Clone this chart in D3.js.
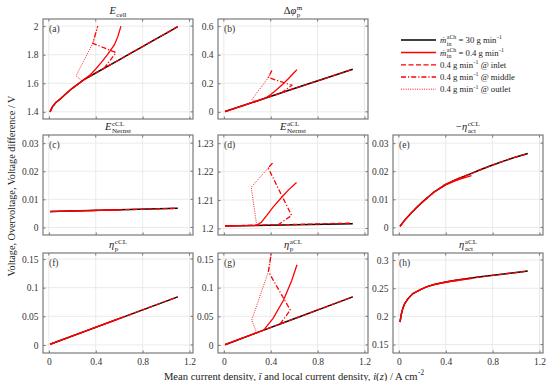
<!DOCTYPE html>
<html>
<head>
<meta charset="utf-8">
<script src="https://cdn.jsdelivr.net/npm/d3@7"></script>
<style>
  body { margin: 0; background: #fff; }
  svg text { font-family: "Liberation Serif", "DejaVu Serif", serif !important; white-space: pre; }
</style>
</head>
<body>
<svg id="chart" width="550" height="381"></svg>
<script>
// ---- data: [current density, value] ----
const xTicks = [0, 0.4, 0.8, 1.2];
const xDomain = [-0.05, 1.23];

// (a) E_cell
const aRef = [[0.01,1.40],[0.03,1.435],[0.06,1.466],[0.1,1.492],[0.15,1.530],[0.2,1.565],[0.3,1.625],[0.4,1.672],[0.5,1.718],[0.6,1.764],[0.7,1.811],[0.8,1.857],[0.9,1.904],[1.0,1.950],[1.1,1.997]];
const aMean = [[0.01,1.40],[0.03,1.435],[0.06,1.466],[0.1,1.492],[0.15,1.530],[0.2,1.565],[0.3,1.627],[0.35,1.657],[0.4,1.70],[0.45,1.748],[0.5,1.80],[0.56,1.87],[0.59,1.93],[0.615,2.0]];
const aInlet = aRef;
const aMiddle = [[0.47,1.704],[0.573,1.815],[0.375,1.88],[0.417,2.0]];
const aOutlet = [[0.283,1.617],[0.232,1.652],[0.375,1.88],[0.417,2.0]];

// (b) membrane proton potential drop
const bRef = [[0.01,0.002],[0.3,0.081],[0.6,0.163],[0.9,0.244],[1.1,0.298]];
const bMean = [[0.01,0.002],[0.3,0.081],[0.35,0.094],[0.4,0.122],[0.45,0.155],[0.5,0.192],[0.55,0.232],[0.6,0.275],[0.624,0.296]];
const bInlet = bRef;
const bMiddle = [[0.49,0.132],[0.58,0.186],[0.38,0.24],[0.41,0.29]];
const bOutlet = [[0.28,0.075],[0.238,0.086],[0.38,0.24],[0.41,0.29]];

// (c) E_Nernst cathode CL
const cRef = [[0.01,0.00565],[0.6,0.00626],[1.1,0.0068]];
const cMean = [[0.01,0.00565],[0.62,0.00628]];
const cInlet = cRef;
const cMiddle = [[0.47,0.00613],[0.573,0.00623],[0.375,0.00603],[0.417,0.00607]];
const cOutlet = [[0.28,0.00593],[0.23,0.00588],[0.375,0.00603],[0.417,0.00607]];

// (d) E_Nernst anode CL
const dRef = [[0.01,1.2009],[0.5,1.2012],[1.1,1.2017]];
const dMean = [[0.01,1.2009],[0.277,1.2011],[0.32,1.2022],[0.363,1.2044],[0.42,1.2075],[0.49,1.2108],[0.55,1.2135],[0.62,1.2162]];
const dInlet = [[0.01,1.2009],[0.3,1.2012],[0.6,1.2014],[0.9,1.2017],[1.1,1.2019]];
const dMiddle = [[0.46,1.2012],[0.578,1.2046],[0.378,1.2213],[0.415,1.223]];
const dOutlet = [[0.28,1.2011],[0.234,1.2145],[0.378,1.2213],[0.415,1.223]];

// (e) -eta_act cathode CL
const eRef = [[0.01,0.0004],[0.05,0.0026],[0.1,0.0049],[0.15,0.0070],[0.2,0.0090],[0.3,0.0126],[0.4,0.0153],[0.5,0.0173],[0.6,0.0189],[0.7,0.0206],[0.8,0.0222],[0.9,0.0237],[1.0,0.0251],[1.1,0.0263]];
const eMean = [[0.01,0.0004],[0.05,0.0026],[0.1,0.0049],[0.15,0.0070],[0.2,0.0090],[0.3,0.0126],[0.4,0.0151],[0.5,0.0169],[0.62,0.0184]];
const eInlet = eRef;
const eMiddle = [[0.46,0.0166],[0.573,0.0181],[0.375,0.0149],[0.417,0.0155]];
const eOutlet = [[0.28,0.0120],[0.23,0.0101],[0.375,0.0149],[0.417,0.0155]];

// (f) eta_p cathode CL
const fRef = [[0.01,0.0012],[0.6,0.0460],[1.1,0.084]];
const fMean = [[0.01,0.0012],[0.62,0.0476]];
const fInlet = fRef;
const fMiddle = [[0.47,0.0362],[0.573,0.044],[0.375,0.029],[0.417,0.032]];
const fOutlet = [[0.28,0.0217],[0.23,0.0179],[0.375,0.029],[0.417,0.032]];

// (g) eta_p anode CL
const gRef = [[0.01,0.0005],[0.3,0.0228],[0.6,0.0457],[0.9,0.0687],[1.1,0.084]];
const gMean = [[0.01,0.0005],[0.3,0.0228],[0.34,0.026],[0.42,0.0465],[0.51,0.0785],[0.58,0.113],[0.624,0.14]];
const gInlet = gRef;
const gMiddle = [[0.48,0.0366],[0.567,0.061],[0.38,0.128],[0.42,0.18]];
const gOutlet = [[0.28,0.0213],[0.238,0.0436],[0.38,0.128],[0.42,0.18]];

// (h) eta_act anode CL
const hRef = [[0.01,0.19],[0.02,0.203],[0.035,0.215],[0.05,0.2227],[0.08,0.232],[0.12,0.2405],[0.18,0.247],[0.235,0.2524],[0.3,0.2565],[0.4,0.2612],[0.5,0.2648],[0.634,0.2684],[0.75,0.2715],[0.863,0.2745],[1.0,0.2778],[1.1,0.2804]];
const hMean = [[0.01,0.19],[0.02,0.203],[0.035,0.215],[0.05,0.2227],[0.08,0.232],[0.12,0.2405],[0.18,0.247],[0.235,0.2524],[0.3,0.2565],[0.4,0.2606],[0.5,0.2638],[0.62,0.2670]];
const hInlet = hRef;
const hMiddle = [[0.46,0.2634],[0.573,0.2660],[0.375,0.2598],[0.417,0.2615]];
const hOutlet = [[0.28,0.2553],[0.23,0.2518],[0.375,0.2598],[0.417,0.2615]];

// ---- layout ----
const colX = [43, 218, 393];
const rowY = [19, 135, 253];
const pw = 150, ph = 100;

const styles = {
  ref:    { color: "#000", width: 1.5, dash: null },
  mean:   { color: "#ff0000", width: 1.3, dash: null },
  inlet:  { color: "#ff0000", width: 1.3, dash: "5,2.5" },
  middle: { color: "#ff0000", width: 1.3, dash: "5,2,1.2,2" },
  outlet: { color: "#ff0000", width: 0.9, dash: "1,1.3" }
};

const panels = [
  { id: "a", col: 0, row: 0, y: [1.35, 2.05], ticks: [1.4, 1.6, 1.8, 2],
    title: [{ t: "E", i: 1, sub: "cell" }],
    data: { ref: aRef, mean: aMean, inlet: aInlet, middle: aMiddle, outlet: aOutlet } },
  { id: "b", col: 1, row: 0, y: [-0.05, 0.65], ticks: [0, 0.2, 0.4, 0.6],
    title: [{ t: "Δ" }, { t: "φ", i: 1, sub: "p", sup: "m" }],
    data: { ref: bRef, mean: bMean, inlet: bInlet, middle: bMiddle, outlet: bOutlet } },
  { id: "c", col: 0, row: 1, y: [-0.0027, 0.0329], ticks: [0, 0.01, 0.02, 0.03],
    title: [{ t: "E", i: 1, sub: "Nernst", sup: "cCL" }],
    data: { ref: cRef, mean: cMean, inlet: cInlet, middle: cMiddle, outlet: cOutlet } },
  { id: "d", col: 1, row: 1, y: [1.1977, 1.2329], ticks: [1.2, 1.21, 1.22, 1.23],
    title: [{ t: "E", i: 1, sub: "Nernst", sup: "aCL" }],
    data: { ref: dRef, mean: dMean, inlet: dInlet, middle: dMiddle, outlet: dOutlet } },
  { id: "e", col: 2, row: 1, y: [-0.0027, 0.0329], ticks: [0, 0.01, 0.02, 0.03],
    title: [{ t: "−" }, { t: "η", i: 1, sub: "act", sup: "cCL" }],
    data: { ref: eRef, mean: eMean, inlet: eInlet, middle: eMiddle, outlet: eOutlet } },
  { id: "f", col: 0, row: 2, y: [-0.014, 0.1605], ticks: [0, 0.05, 0.1, 0.15],
    title: [{ t: "η", i: 1, sub: "p", sup: "cCL" }],
    data: { ref: fRef, mean: fMean, inlet: fInlet, middle: fMiddle, outlet: fOutlet } },
  { id: "g", col: 1, row: 2, y: [-0.014, 0.1605], ticks: [0, 0.05, 0.1, 0.15],
    title: [{ t: "η", i: 1, sub: "p", sup: "aCL" }],
    data: { ref: gRef, mean: gMean, inlet: gInlet, middle: gMiddle, outlet: gOutlet } },
  { id: "h", col: 2, row: 2, y: [0.135, 0.3125], ticks: [0.15, 0.2, 0.25, 0.3],
    title: [{ t: "η", i: 1, sub: "act", sup: "aCL" }],
    data: { ref: hRef, mean: hMean, inlet: hInlet, middle: hMiddle, outlet: hOutlet } }
];

const svg = d3.select("#chart");

// text with italic base letters and stacked sub/superscripts
function richText(parent, x, y, parts, size, anchor) {
  const g = parent.append("g").attr("transform", `translate(${x},${y})`);
  const inner = g.append("g");
  let cx = 0;
  parts.forEach(p => {
    if (p.t) {
      const t = inner.append("text").attr("x", cx).attr("y", 0)
        .attr("font-size", size).attr("fill", "#222")
        .attr("font-style", p.i ? "italic" : "normal").text(p.t);
      cx += t.node().getComputedTextLength();
    }
    let w = 0;
    if (p.sub) {
      const s = inner.append("text").attr("x", cx + 0.5).attr("y", size * 0.3)
        .attr("font-size", size * 0.68).attr("fill", "#222").text(p.sub);
      w = Math.max(w, s.node().getComputedTextLength() + 0.5);
    }
    if (p.sup) {
      const s = inner.append("text").attr("x", cx + 0.5).attr("y", -size * 0.42)
        .attr("font-size", size * 0.68).attr("fill", "#222").text(p.sup);
      w = Math.max(w, s.node().getComputedTextLength() + 0.5);
    }
    cx += w;
  });
  if (anchor === "middle") inner.attr("transform", `translate(${-cx / 2},0)`);
  return g;
}

const line = d3.line();

panels.forEach(p => {
  const left = colX[p.col], top = rowY[p.row];
  const x = d3.scaleLinear().domain(xDomain).range([0, pw]);
  const y = d3.scaleLinear().domain(p.y).range([ph, 0]);
  const g = svg.append("g").attr("transform", `translate(${left},${top})`);

  g.append("clipPath").attr("id", "clip-" + p.id)
    .append("rect").attr("width", pw).attr("height", ph);

  // grid
  g.append("g").selectAll("line").data(xTicks).join("line")
    .attr("x1", d => x(d)).attr("x2", d => x(d)).attr("y1", 0).attr("y2", ph)
    .attr("stroke", "#e4e4e4").attr("stroke-width", 0.8);
  g.append("g").selectAll("line").data(p.ticks).join("line")
    .attr("y1", d => y(d)).attr("y2", d => y(d)).attr("x1", 0).attr("x2", pw)
    .attr("stroke", "#e4e4e4").attr("stroke-width", 0.8);

  // series
  const plot = g.append("g").attr("clip-path", `url(#clip-${p.id})`);
  line.x(d => x(d[0])).y(d => y(d[1]));
  ["ref", "mean", "inlet", "middle", "outlet"].forEach(k => {
    const s = styles[k];
    plot.append("path").datum(p.data[k]).attr("d", line)
      .attr("fill", "none").attr("stroke", s.color)
      .attr("stroke-width", s.width)
      .attr("stroke-dasharray", s.dash);
  });

  // axes (ticks inside, grey box)
  const yAxis = d3.axisLeft(y).tickValues(p.ticks).tickSize(-2.5).tickPadding(4.5).tickFormat(d => String(d));
  const ya = g.append("g").call(yAxis);
  ya.select(".domain").remove();
  ya.selectAll("line").attr("stroke", "#777");
  ya.selectAll("text").attr("font-size", 9.5).attr("fill", "#333");

  const xAxis = d3.axisBottom(x).tickValues(xTicks).tickSize(-2.5).tickPadding(5).tickFormat(d => String(d));
  const xa = g.append("g").attr("transform", `translate(0,${ph})`).call(xAxis);
  xa.select(".domain").remove();
  xa.selectAll("line").attr("stroke", "#777");
  xa.selectAll("text").attr("font-size", 9.5).attr("fill", "#333");
  if (p.row < 2) xa.selectAll("text").remove();

  // ticks on top and right
  g.append("g").selectAll("line").data(xTicks).join("line")
    .attr("x1", d => x(d)).attr("x2", d => x(d)).attr("y1", 0).attr("y2", 2.5)
    .attr("stroke", "#777");
  g.append("g").selectAll("line").data(p.ticks).join("line")
    .attr("y1", d => y(d)).attr("y2", d => y(d)).attr("x1", pw - 2.5).attr("x2", pw)
    .attr("stroke", "#777");

  g.append("rect").attr("width", pw).attr("height", ph)
    .attr("fill", "none").attr("stroke", "#7a7a7a").attr("stroke-width", 1.2);

  g.append("text").attr("x", 6).attr("y", 13).attr("font-size", 9.5)
    .attr("fill", "#333").text(`(${p.id})`);

  richText(g, pw / 2, -5, p.title, 10.5, "middle");
});

// ---- legend ----
const legendRows = [
  { k: "ref",    parts: [{ t: "ṁ", i: 1, sub: "in", sup: "aCh" }, { t: " = 30 g min", sup: "-1" }] },
  { k: "mean",   parts: [{ t: "ṁ", i: 1, sub: "in", sup: "aCh" }, { t: " = 0.4 g min", sup: "-1" }] },
  { k: "inlet",  parts: [{ t: "0.4 g min", sup: "-1" }, { t: " @ inlet" }] },
  { k: "middle", parts: [{ t: "0.4 g min", sup: "-1" }, { t: " @ middle" }] },
  { k: "outlet", parts: [{ t: "0.4 g min", sup: "-1" }, { t: " @ outlet" }] }
];
const legY = [40, 52.5, 64.8, 77, 89.2];
const leg = svg.append("g");
legendRows.forEach((r, i) => {
  const s = styles[r.k];
  leg.append("line").attr("x1", 401).attr("x2", 436).attr("y1", legY[i]).attr("y2", legY[i])
    .attr("stroke", s.color).attr("stroke-width", s.width).attr("stroke-dasharray", s.dash);
  richText(leg, 440, legY[i] + 3, r.parts, 8.7, "start");
});

// ---- axis labels ----
richText(svg, 294, 379.5, [
  { t: "Mean current density, " }, { t: "ī", i: 1 },
  { t: " and local current density, " }, { t: "i", i: 1 }, { t: "(" }, { t: "z", i: 1 },
  { t: ") / A cm", sup: "-2" }
], 10.6, "middle");

svg.append("text")
  .attr("transform", "translate(15,186) rotate(-90)")
  .attr("text-anchor", "middle").attr("font-size", 10.2).attr("fill", "#222")
  .text("Voltage, Overvoltage, Voltage difference / V");
</script>
</body>
</html>
